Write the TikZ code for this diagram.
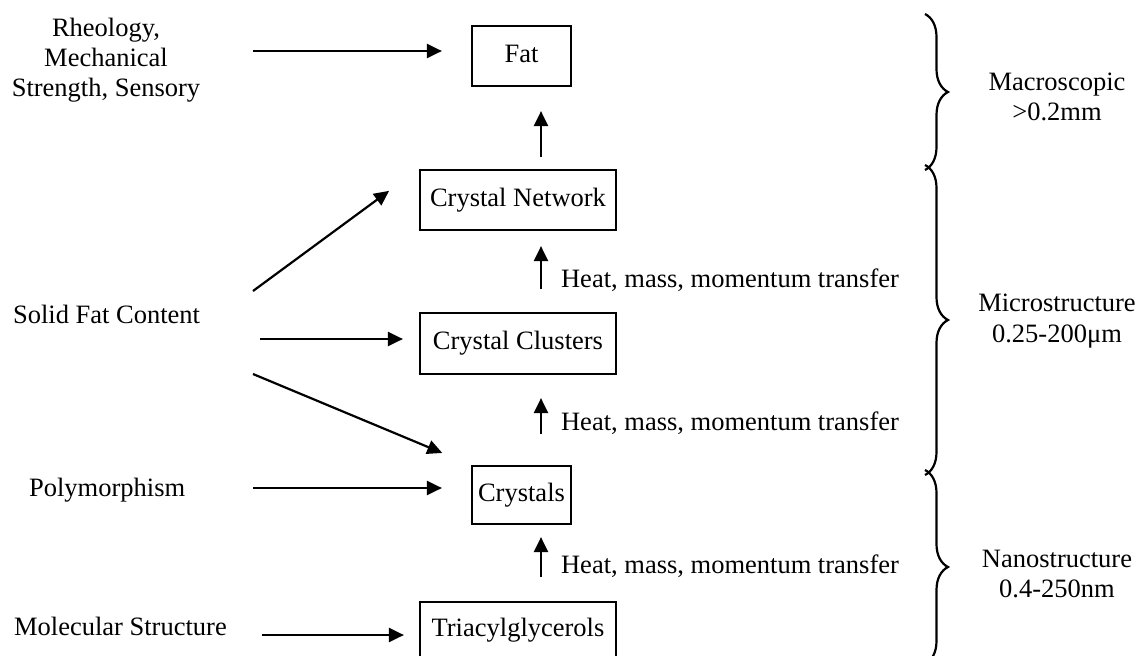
\documentclass[tikz,border=0pt]{standalone}
\usepackage{fontspec}
\setmainfont{Liberation Serif}
\usetikzlibrary{arrows.meta,decorations.pathreplacing}

\begin{document}
\begin{tikzpicture}[x=1pt,y=-1pt,line width=2.2pt,
  txt/.style={font=\fontsize{26.5}{31}\selectfont, inner sep=0pt},
  lft/.style={txt, anchor=base west},
  mid/.style={txt, anchor=base},
  box/.style={txt, draw, line width=2.2pt, text height=18pt, text depth=6pt},
  arr/.style={-{Triangle[length=15pt,width=14pt]}},
  brc/.style={decorate, decoration={brace, amplitude=23pt}}]
\clip (0,0) rectangle (1136,656);

% boxes of the structural hierarchy
\node[box, minimum width=99pt,  minimum height=60pt] (fat) at (521.5,56)  {Fat};
\node[box, minimum width=196pt, minimum height=60pt] (net) at (518,200)   {Crystal Network};
\node[box, minimum width=196pt, minimum height=61pt] (clu) at (518,343.5) {Crystal Clusters};
\node[box, minimum width=99pt,  minimum height=58pt] (cry) at (521.5,495) {Crystals};
\node[box, minimum width=196pt, minimum height=56pt] (tag) at (518,630)   {Triacylglycerols};

% properties on the left
\node[mid] (rh1) at (106,36) {Rheology,};
\node[mid] (rh2) at (106,66) {Mechanical};
\node[mid] (rh3) at (106,96) {Strength, Sensory};
\node[lft] (sfc) at (12,323) {Solid Fat Content};
\node[lft] (pol) at (28,496) {Polymorphism};
\node[lft] (mol) at (13,635) {Molecular Structure};

% length scales on the right
\node[mid] (ma1) at (1057,90)  {Macroscopic};
\node[mid] (ma2) at (1057,120) {>0.2mm};
\node[mid] (mi1) at (1057,311) {Microstructure};
\node[mid] (mi2) at (1057,342) {0.25-200μm};
\node[mid] (na1) at (1057,567) {Nanostructure};
\node[mid] (na2) at (1057,597) {0.4-250nm};

% transfer labels
\node[lft] (ht1) at (560,287) {Heat, mass, momentum transfer};
\node[lft] (ht2) at (560,430) {Heat, mass, momentum transfer};
\node[lft] (ht3) at (560,573) {Heat, mass, momentum transfer};

% arrow tails
\coordinate (r0) at (253,51);
\coordinate (s1) at (253,291);
\coordinate (s2) at (260,339);
\coordinate (s3) at (253,374);
\coordinate (p0) at (253,488);
\coordinate (m0) at (262,635);

% horizontal and slanted arrows
\draw[arr, shorten >=29pt] (r0) -- (r0 -| fat.west);
\draw[arr, shorten >=37pt] (s1) -- (net.north west);
\draw[arr, shorten >=16pt] (s2) -- (s2 -| clu.west);
\draw[arr, shorten >=31pt] (s3) -- (cry.north west);
\draw[arr, shorten >=29pt] (p0) -- (p0 -| cry.west);
\draw[arr, shorten >=15pt] (m0) -- (m0 -| tag.west);

% upward arrows, all on one vertical line
\draw[arr, shorten <=12pt, shorten >=24pt] ([xshift=23pt]net.north) -- ([xshift=19.5pt]fat.south);
\draw[arr, shorten <=23pt, shorten >=15pt] ([xshift=23pt]clu.north) -- ([xshift=23pt]net.south);
\draw[arr, shorten <=31pt, shorten >=23pt] ([xshift=19.5pt]cry.north) -- ([xshift=23pt]clu.south);
\draw[arr, shorten <=24pt, shorten >=12pt] ([xshift=23pt]tag.north) -- ([xshift=19.5pt]cry.south);

% braces of the length scales
\draw[brc] (925,14)  -- (925,170);
\draw[brc] (925,165) -- (925,475);
\draw[brc] (925,470) -- (925,664);
\end{tikzpicture}
\end{document}
